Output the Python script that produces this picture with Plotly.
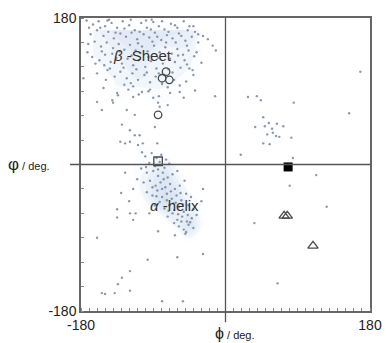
import plotly.graph_objects as go

# residue backbone dihedral angles (deg) - background population
phi_bg = [
    -165,-158,-150,-142,-135,-128,-120,-113,-105,-98,-90,-83,-76,-68,-60,-52,-45,-38,
    -168,-160,-152,-146,-139,-131,-124,-117,-110,-102,-95,-88,-80,-73,-66,-58,-50,-42,-34,
    -171,-163,-155,-148,-140,-133,-126,-119,-112,-104,-97,-89,-82,-75,-67,-60,-53,-46,-39,
    -166,-157,-150,-143,-136,-129,-122,-115,-108,-100,-93,-86,-78,-71,-63,-56,-48,-41,
    -160,-147,-138,-131,-123,-116,-109,-101,-94,-87,-79,-72,-64,-57,-49,
    -152,-135,-121,-108,-96,-83,-69,-52,-38,
    -173,-156,-147,-137,-126,-118,-107,-99,-93,-85,-79,-71,-63,-55,-47,
    -141,-132,-117,-106,-96,-84,-69,-59,-51,-151,-144,-127,-111,-98,-83,-76,-66,
    -109,-91,-74,-154,-162,-170,-149,-126,-115,-57,-45,-36,
    -40,-34,-28,-22,-16,-48,-12,-30,-40,-13,-177,-172,-145,-118,-92,-62,
    -160,-154,-140,-141,-134,-115,-104,-94,-90,-84,-82,-72,-123,-113,-88,-129,-119,-113,-107,
    -131,-125,-119,-109,-103,-104,-85,
    -100,-92,-86,-80,-74,-95,-88,-82,-76,-70,-105,-98,-90,-84,-78,-72,-66,-60,
    -110,-102,-94,-87,-81,-75,-69,-63,-57,-51,
    -98,-91,-85,-79,-73,-67,-61,-55,-49,-43,
    -88,-82,-76,-70,-64,-58,-52,-46,-40,
    -72,-66,-60,-54,-48,-42,-36,
    -58,-52,-46,-40,-64,
    -79,-73,-68,-62,-56,-71,-65,-59,-53,-47,-44,-50,-55,-77,-86,-91,-99,-84,
    -115,-120,-125,-112,-130,-135,-95,-30,-28,-135,-119,-115,
    -160,-97,-60,-28,-119,-129,-134,-154,-150,-138,-119,-79,-53,-84,-63,-49,
    28,39,44,85,154,47,37,49,54,64,72,58,59,52,63,67,82,47,55,19,84,113,168,
    80,126,36,65,
]
psi_bg = [
    172,176,170,174,168,176,171,165,174,168,175,170,166,173,168,176,170,163,
    160,165,158,163,155,161,157,162,154,160,156,162,153,159,155,161,152,157,150,
    148,151,145,150,143,148,141,147,140,145,139,146,138,144,136,142,135,140,133,
    132,128,135,126,131,124,130,122,128,120,127,118,124,117,126,119,123,116,
    112,116,108,114,106,112,104,110,101,108,99,95,104,97,102,
    94,88,92,86,90,84,88,82,91,
    177,168,177,162,167,178,163,177,166,157,176,163,171,158,165,
    136,139,134,137,132,131,130,134,128,122,118,119,117,113,112,110,113,
    149,151,150,139,124,168,104,98,96,89,118,138,
    170,160,158,154,146,146,140,125,110,84,106,138,178,100,178,150,
    77,67,76,79,85,83,89,92,82,76,71,73,67,61,46,49,42,36,36,
    28,26,28,24,26,15,26,
    10,14,8,12,6,2,-2,3,-4,1,-5,-10,-8,-14,-10,-16,-12,-8,
    -18,-22,-20,-26,-22,-28,-24,-30,-26,-20,
    -34,-38,-32,-40,-36,-42,-38,-44,-36,-40,
    -50,-46,-54,-50,-56,-52,-58,-50,-55,
    -64,-60,-68,-64,-70,-66,-62,
    -76,-80,-74,-78,-72,
    -30,-44,-33,-47,-35,-57,-48,-61,-49,-62,-71,-85,-70,-18,-39,-28,-3,-6,
    -30,-45,-10,-60,-35,-55,-60,-45,-30,-65,-60,-68,
    -90,-117,-114,-110,-131,-139,-147,-158,-159,-158,-155,-168,-168,-82,-87,-83,
    83,84,79,76,63,58,46,47,51,50,47,44,39,37,35,34,33,26,25,12,8,-13,114,
    -26,-52,-72,-146,
]

# highlighted conformers
circ_phi = [-74, -79, -70, -84]
circ_psi = [114, 106, 104, 61]
osq_phi = [-84]
osq_psi = [4]
fsq_phi = [78]
fsq_psi = [-3]
tri_phi = [73, 77, 109]
tri_psi = [-63, -63, -100]

axis_ticks = [-180, 180]
axis_ticktext = ["-180", "180"]

fig = go.Figure()

fig.add_trace(go.Histogram2dContour(
    x=phi_bg, y=psi_bg,
    xbins=dict(start=-180, end=180, size=30),
    ybins=dict(start=-180, end=180, size=30),
    colorscale=[[0, "rgba(255,255,255,0)"], [0.3, "rgba(255,255,255,0)"],
                [0.45, "rgba(232,239,247,0.45)"], [1, "rgba(212,225,240,0.7)"]],
    contours=dict(coloring="fill", showlines=False),
    line=dict(width=0, smoothing=1.3), ncontours=10,
    showscale=False, hoverinfo="skip",
))

fig.add_trace(go.Scatter(
    x=phi_bg, y=psi_bg, mode="markers",
    marker=dict(size=2.4, color="#76879c", opacity=0.85),
    showlegend=False,
))

open_line = dict(color="#4a4a4a", width=1.3)
fig.add_trace(go.Scatter(x=circ_phi, y=circ_psi, mode="markers",
    marker=dict(symbol="circle-open", size=7.5, color="#4a4a4a", line=open_line), showlegend=False))
fig.add_trace(go.Scatter(x=osq_phi, y=osq_psi, mode="markers",
    marker=dict(symbol="square-open", size=8.5, color="#4a4a4a", line=open_line), showlegend=False))
fig.add_trace(go.Scatter(x=fsq_phi, y=fsq_psi, mode="markers",
    marker=dict(symbol="square", size=9, color="#000000"), showlegend=False))
fig.add_trace(go.Scatter(x=tri_phi, y=tri_psi, mode="markers",
    marker=dict(symbol="triangle-up-open", size=9, color="#4a4a4a", line=open_line), showlegend=False))

# crosshair lines extending beyond the frame
fig.add_shape(type="line", xref="x", yref="paper", x0=0, x1=0, y0=-0.038, y1=1,
              line=dict(color="#555", width=1.3))
fig.add_shape(type="line", xref="paper", yref="y", x0=-0.038, x1=1, y0=0, y1=0,
              line=dict(color="#555", width=1.3))

font = "Liberation Sans, Arial, sans-serif"
fig.add_annotation(x=-103, y=134, text="<i>β</i> -Sheet", showarrow=False,
                   font=dict(family=font, size=15, color="#333"))
fig.add_annotation(x=-64, y=-50, text="<i>α</i> -helix", showarrow=False,
                   font=dict(family=font, size=15, color="#333"))
fig.add_annotation(xref="paper", yref="y", x=-0.100, y=0, xanchor="right",
                   text="<span style='font-size:17px'>φ</span> / deg.", showarrow=False,
                   font=dict(family=font, size=11, color="#222"))
fig.add_annotation(xref="x", yref="paper", x=-16, y=-0.04, xanchor="left", yanchor="top",
                   text="<span style='font-size:16px'>ϕ</span> / deg.", showarrow=False,
                   font=dict(family=font, size=11, color="#222"))

common = dict(
    range=[-180, 180], showgrid=False, zeroline=False, automargin=False,
    showline=True, linecolor="#666", linewidth=1.5, mirror=True,
    tickvals=axis_ticks, ticktext=axis_ticktext, ticks="",
    tickfont=dict(family=font, size=14, color="#222"),
)
fig.update_xaxes(**common, minor=dict(dtick=10, tick0=-180, ticks="inside", ticklen=3, tickcolor="#888", showgrid=False))
fig.update_yaxes(**common, minor=dict(dtick=30, tick0=-180, ticks="inside", ticklen=3, tickcolor="#888", showgrid=False))

fig.update_layout(
    width=385, height=343,
    margin=dict(l=81, r=15, t=18, b=32),
    plot_bgcolor="white", paper_bgcolor="white",
    showlegend=False,
)

fig.write_html("out.html", config={"displayModeBar": False},
               post_script="document.body.style.margin='0';document.body.style.overflow='hidden';")
